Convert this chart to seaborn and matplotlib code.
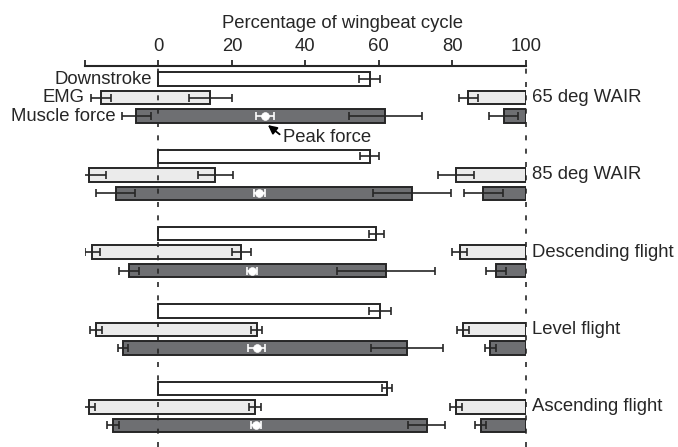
import numpy as np
import seaborn as sns
import matplotlib.pyplot as plt

conditions = ['65 deg WAIR', '85 deg WAIR', 'Descending flight', 'Level flight', 'Ascending flight']
down_end = [57.5, 57.5, 59.3, 60.4, 62.2]
down_end_err = [2.9, 2.6, 2.0, 3.0, 1.4]
emg_on = [-15.6, -19.0, -18.0, -17.1, -19.0]
emg_on_err = [2.7, 4.8, 2.0, 1.6, 1.6]
emg_off = [14.1, 15.5, 22.5, 26.7, 26.2]
emg_off_err = [5.9, 4.8, 2.6, 1.4, 1.6]
force_on = [-6.0, -11.6, -8.1, -9.6, -12.3]
force_on_err = [4.0, 5.3, 2.7, 1.4, 1.6]
force_off = [61.8, 69.0, 62.0, 67.8, 73.0]
force_off_err = [9.9, 10.6, 13.4, 9.8, 5.0]
peak = [29.0, 27.5, 25.5, 26.8, 26.6]
peak_err = [2.5, 1.5, 1.4, 2.3, 1.4]
row_names = ['Downstroke', 'EMG', 'Muscle force']

sns.set_style('ticks')
plt.rcParams['font.family'] = ['Liberation Sans', 'DejaVu Sans']
fs = 13.3

fig = plt.figure(figsize=(6.78, 4.47), dpi=100)
ax = fig.add_axes([0.1254, 0.0, 0.650, 0.8523])

edge = '#262626'
light = '#ebebeb'
dark = '#6e6f72'
h = 0.73
gap = 4.18
ekw = dict(fmt='none', ecolor=edge, elinewidth=1.2, capsize=3, capthick=1.2, zorder=4)

for g in range(len(conditions)):
    y0 = g * gap
    y1, y2 = y0 + 1, y0 + 2
    # downstroke
    ax.barh(y0, down_end[g], left=0, height=h, color='white', edgecolor=edge, linewidth=1.4, zorder=2)
    ax.errorbar(down_end[g], y0, xerr=down_end_err[g], **ekw)
    # EMG
    ax.barh(y1, emg_off[g] - emg_on[g], left=emg_on[g], height=h, color=light, edgecolor=edge, linewidth=1.4, zorder=2)
    ax.barh(y1, -emg_on[g], left=100 + emg_on[g], height=h, color=light, edgecolor=edge, linewidth=1.4, zorder=2)
    ax.errorbar([emg_on[g], emg_off[g], 100 + emg_on[g]], [y1] * 3,
                xerr=[emg_on_err[g], emg_off_err[g], emg_on_err[g]], **ekw)
    # muscle force
    ax.barh(y2, force_off[g] - force_on[g], left=force_on[g], height=h, color=dark, edgecolor=edge, linewidth=1.4, zorder=2)
    ax.barh(y2, -force_on[g], left=100 + force_on[g], height=h, color=dark, edgecolor=edge, linewidth=1.4, zorder=2)
    ax.errorbar([force_on[g], force_off[g], 100 + force_on[g]], [y2] * 3,
                xerr=[force_on_err[g], force_off_err[g], force_on_err[g]], **ekw)
    # peak force
    ax.errorbar(peak[g], y2, xerr=peak_err[g], fmt='none', ecolor='white', elinewidth=1.2,
                capsize=3, capthick=1.2, zorder=5)
    ax.text(101.6, y1, conditions[g], ha='left', va='center', fontsize=fs, clip_on=False)

sns.scatterplot(x=peak, y=[g * gap + 2 for g in range(len(conditions))], color='white',
                edgecolor='white', s=32, zorder=6, ax=ax, legend=False)

# row labels for the first group
ax.text(-1.8, 0, row_names[0], ha='right', va='center', fontsize=fs)
ax.text(emg_on[0] - emg_on_err[0] - 1.8, 1, row_names[1], ha='right', va='center', fontsize=fs, clip_on=False)
ax.text(force_on[0] - force_on_err[0] - 1.8, 2, row_names[2], ha='right', va='center', fontsize=fs, clip_on=False)

ax.annotate('', xy=(29.8, 2.49), xytext=(33.0, 2.99),
            arrowprops=dict(arrowstyle='-|>', color='black', lw=1.3, shrinkA=0, shrinkB=0,
                            mutation_scale=13))
ax.text(34.0, 3.17, 'Peak force', ha='left', va='center', fontsize=fs)

for xv in [0, 100]:
    ax.axvline(xv, color=edge, lw=1.2, linestyle=(0, (3, 5)), zorder=3, clip_on=False)

ax.set_xlim(-20, 100)
ax.set_ylim(19.89, -0.703)
ax.xaxis.tick_top()
ax.set_xticks([-20, 0, 20, 40, 60, 80, 100])
ax.set_xticklabels(['', '0', '20', '40', '60', '80', '100'])
ax.tick_params(axis='x', direction='out', length=4.5, width=1.3, color=edge, labelsize=fs, pad=3.5)
ax.set_yticks([])
for s in ['left', 'right', 'bottom']:
    ax.spines[s].set_visible(False)
ax.spines['top'].set_color(edge)
ax.spines['top'].set_linewidth(1.5)
ax.text(50, 1.1115, 'Percentage of wingbeat cycle', transform=ax.get_xaxis_transform(),
        ha='center', va='center', fontsize=fs)

plt.savefig('out.png', dpi=100)
